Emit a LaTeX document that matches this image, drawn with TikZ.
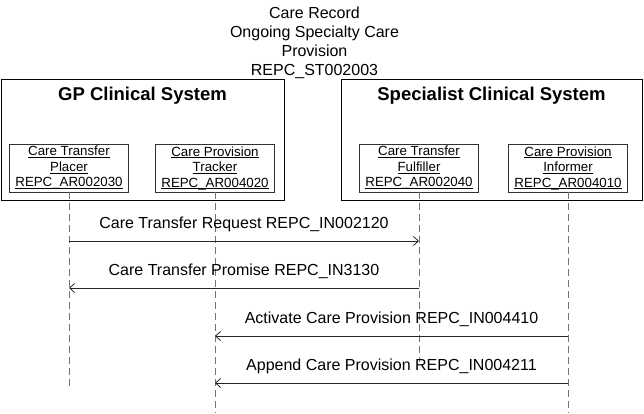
\documentclass[tikz,border=0pt]{standalone}
\usepackage{fontspec}
\setmainfont{Liberation Sans}
\usetikzlibrary{arrows.meta}
\newcommand\myul[1]{\setbox0\hbox{#1}\rlap{\rule[-1.9pt]{\wd0}{0.6pt}}\box0}
\begin{document}
\begin{tikzpicture}[x=1pt,y=-1pt,
  sysbox/.style={draw=black, line width=0.9pt, minimum width=#1, minimum height=121pt, inner sep=0pt},
  systitle/.style={font=\fontsize{18.5}{22}\selectfont\bfseries},
  rolebox/.style={draw=black!80, line width=0.8pt, minimum width=119pt, minimum height=48pt, inner sep=0pt, align=center, font=\fontsize{13.3}{15.5}\selectfont},
  lifeline/.style={draw=black!55, line width=0.9pt, dash pattern=on 7pt off 4pt},
  msg/.style={draw=black!85, line width=0.8pt, -{Straight Barb[length=5pt,width=9pt]}},
  msglabel/.style={anchor=base, yshift=12.5pt, inner sep=0pt, font=\fontsize{16}{19}\selectfont}
]
\useasboundingbox (0,0) rectangle (644,413);
\fill[white] (0,0) rectangle (644,413);

% title
\node[align=center, font=\fontsize{16}{19}\selectfont, inner sep=0pt] (title) at (314.5,42.5)
  {Care Record\\Ongoing Specialty Care\\Provision\\REPC\_ST002003};

% system boxes
\node[sysbox=283pt] (gp) at (142.5,139.5) {};
\node[sysbox=301pt] (spec) at (491.5,139.5) {};
\node[systitle] (gpt) at (142.5,96) {GP Clinical System};
\node[systitle] (spect) at (491.5,96) {Specialist Clinical System};

% role boxes
\node[rolebox] (placer) at (69,168) {\myul{Care Transfer}\\\myul{Placer}\\\myul{REPC\_AR002030}};
\node[rolebox] (tracker) at (215,168) {\myul{Care Provision}\\\myul{Tracker}\\\myul{REPC\_AR004020}};
\node[rolebox] (fulfiller) at (419,168) {\myul{Care Transfer}\\\myul{Fulfiller}\\\myul{REPC\_AR002040}};
\node[rolebox] (informer) at (568,168) {\myul{Care Provision}\\\myul{Informer}\\\myul{REPC\_AR004010}};

% lifeline ends
\coordinate (e1) at (69,389);
\coordinate (e2) at (215,413);
\coordinate (e3) at (419,362);
\coordinate (e4) at (568,413);
\draw[lifeline] (placer.south) -- (e1);
\draw[lifeline] (tracker.south) -- (e2);
\draw[lifeline] (fulfiller.south) -- (e3);
\draw[lifeline] (informer.south) -- (e4);

% message points
\coordinate (m1a) at (69,241);  \coordinate (m1b) at (419,241);
\coordinate (m2a) at (419,288); \coordinate (m2b) at (69,288);
\coordinate (m3a) at (568,336); \coordinate (m3b) at (215,336);
\coordinate (m4a) at (568,383); \coordinate (m4b) at (215,383);

\draw[msg] (m1a) -- node[msglabel] {Care Transfer Request REPC\_IN002120} (m1b);
\draw[msg] (m2a) -- node[msglabel] {Care Transfer Promise REPC\_IN3130} (m2b);
\draw[msg] (m3a) -- node[msglabel] {Activate Care Provision REPC\_IN004410} (m3b);
\draw[msg] (m4a) -- node[msglabel] {Append Care Provision REPC\_IN004211} (m4b);
\end{tikzpicture}
\end{document}
